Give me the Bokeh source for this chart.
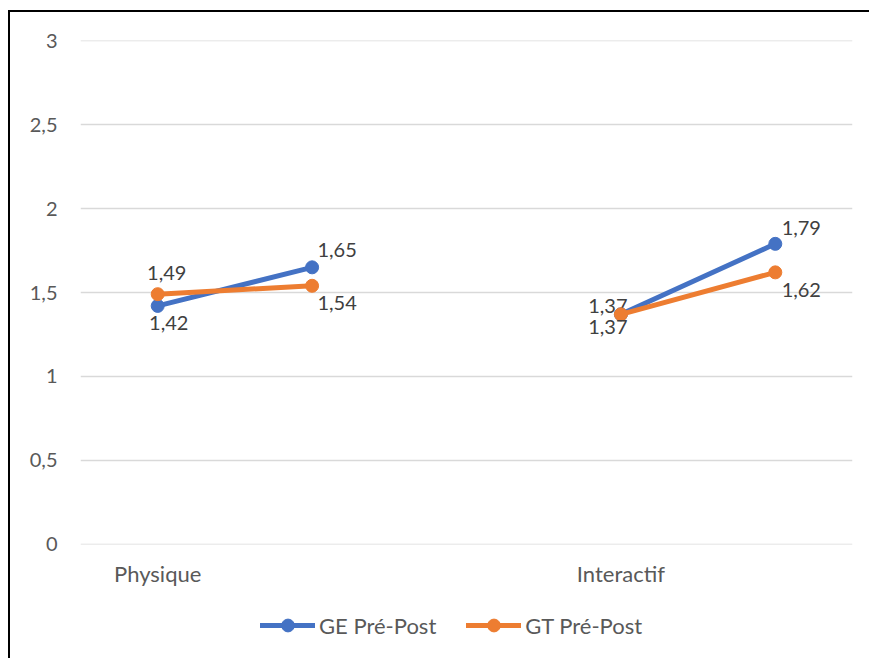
from bokeh.plotting import figure
from bokeh.layouts import column
from bokeh.models import (ColumnDataSource, FixedTicker, Legend, LegendItem, Range1d)
from bokeh.embed import file_html
from bokeh.resources import INLINE
from bokeh.core.properties import value
import math

# ---- data ----
categories = ["Physique", "", "", "Interactif", ""]
ge_values = [1.42, 1.65, float("nan"), 1.37, 1.79]
gt_values = [1.49, 1.54, float("nan"), 1.37, 1.62]
series_names = ["GE Pré-Post", "GT Pré-Post"]
y_ticks = [0, 0.5, 1, 1.5, 2, 2.5, 3]
y_tick_labels = ["0", "0,5", "1", "1,5", "2", "2,5", "3"]

# label offsets (screen px) for each point: (dx, dy) with dy positive = down
ge_offsets = [(11, 17), (25, -17), None, (-13, -8), (26, -16)]
gt_offsets = [(9, -21), (25, 17), None, (-13, 13), (26, 18)]

BLUE = "#4472C4"
ORANGE = "#ED7D31"
FONT = "Lato"
colors = [BLUE, ORANGE]

xs = [i + 0.5 for i in range(len(categories))]

W = 859
p = figure(width=W, height=590, output_backend="svg", toolbar_location=None,
           x_range=Range1d(0, len(categories)), y_range=Range1d(-0.002, 3.002),
           min_border_left=70, min_border_right=17, min_border_top=28,
           min_border_bottom=58)
p.outline_line_color = None

# axes
p.yaxis.ticker = FixedTicker(ticks=y_ticks)
p.yaxis.major_label_overrides = {t: l for t, l in zip(y_ticks, y_tick_labels)}
p.xaxis.ticker = FixedTicker(ticks=[x for x, c in zip(xs, categories) if c])
p.xaxis.major_label_overrides = {x: c for x, c in zip(xs, categories) if c}
for ax in (p.xaxis, p.yaxis):
    ax.axis_line_color = None
    ax.major_tick_line_color = None
    ax.minor_tick_line_color = None
    ax.major_tick_out = 0
    ax.major_tick_in = 0
    ax.minor_tick_out = 0
    ax.major_label_text_font = FONT
    ax.major_label_text_color = "#595959"
p.yaxis.major_label_text_font_size = "20px"
p.xaxis.major_label_text_font_size = "22px"
p.yaxis.major_label_standoff = 23
p.xaxis.major_label_standoff = 15

p.xgrid.grid_line_color = None
p.ygrid.grid_line_color = "#D9D9D9"
p.ygrid.grid_line_width = 1.5

for vals, offs, color in [(ge_values, ge_offsets, BLUE), (gt_values, gt_offsets, ORANGE)]:
    src = ColumnDataSource(dict(x=xs, y=vals))
    p.line("x", "y", source=src, line_color=color, line_width=5, line_cap="round")
    p.scatter("x", "y", source=src, size=13, fill_color=color, line_color=color)
    lx, ly, lt, dx, dy = [], [], [], [], []
    for x, v, o in zip(xs, vals, offs):
        if v is None or math.isnan(v) or o is None:
            continue
        lx.append(x); ly.append(v)
        lt.append(f"{v:.2f}".replace(".", ","))
        dx.append(o[0]); dy.append(o[1])
    lsrc = ColumnDataSource(dict(x=lx, y=ly, t=lt, dx=dx, dy=dy))
    p.text("x", "y", text="t", source=lsrc, x_offset="dx", y_offset="dy",
           text_align="center", text_baseline="middle",
           text_font=value(FONT), text_font_size="20px", text_color="#404040")

# legend strip (separate small figure so the legend is not clipped)
pl = figure(width=W, height=56, output_backend="svg", toolbar_location=None,
            x_range=Range1d(0, 1), y_range=Range1d(0, 1),
            x_axis_type=None, y_axis_type=None, min_border=0,
            min_border_left=0, min_border_right=0, min_border_top=0, min_border_bottom=0)
pl.outline_line_color = None
pl.grid.visible = False
items = []
for name, color in zip(series_names, colors):
    # proxy renderers placed outside the visible range; only their legend glyphs show
    esrc = ColumnDataSource(dict(x=[-5, -4], y=[-5, -5]))
    l = pl.line("x", "y", source=esrc, line_color=color, line_width=5, line_cap="round")
    s = pl.scatter("x", "y", source=esrc, size=13, fill_color=color, line_color=color)
    items.append(LegendItem(label=name, renderers=[l, s]))
legend = Legend(items=items, orientation="horizontal", location=(180, 17),
                border_line_color=None, background_fill_alpha=0,
                label_text_font=FONT, label_text_font_size="22px",
                label_text_color="#595959", glyph_width=55, glyph_height=32,
                label_standoff=4, spacing=30, padding=4, margin=0)
pl.add_layout(legend, "center")

root = column(p, pl, spacing=0)
root.styles = {"margin-left": "8px", "margin-top": "10px",
               "border-left": "2px solid black", "border-top": "2px solid black"}

open("out.html", "w").write(file_html(root, INLINE))
